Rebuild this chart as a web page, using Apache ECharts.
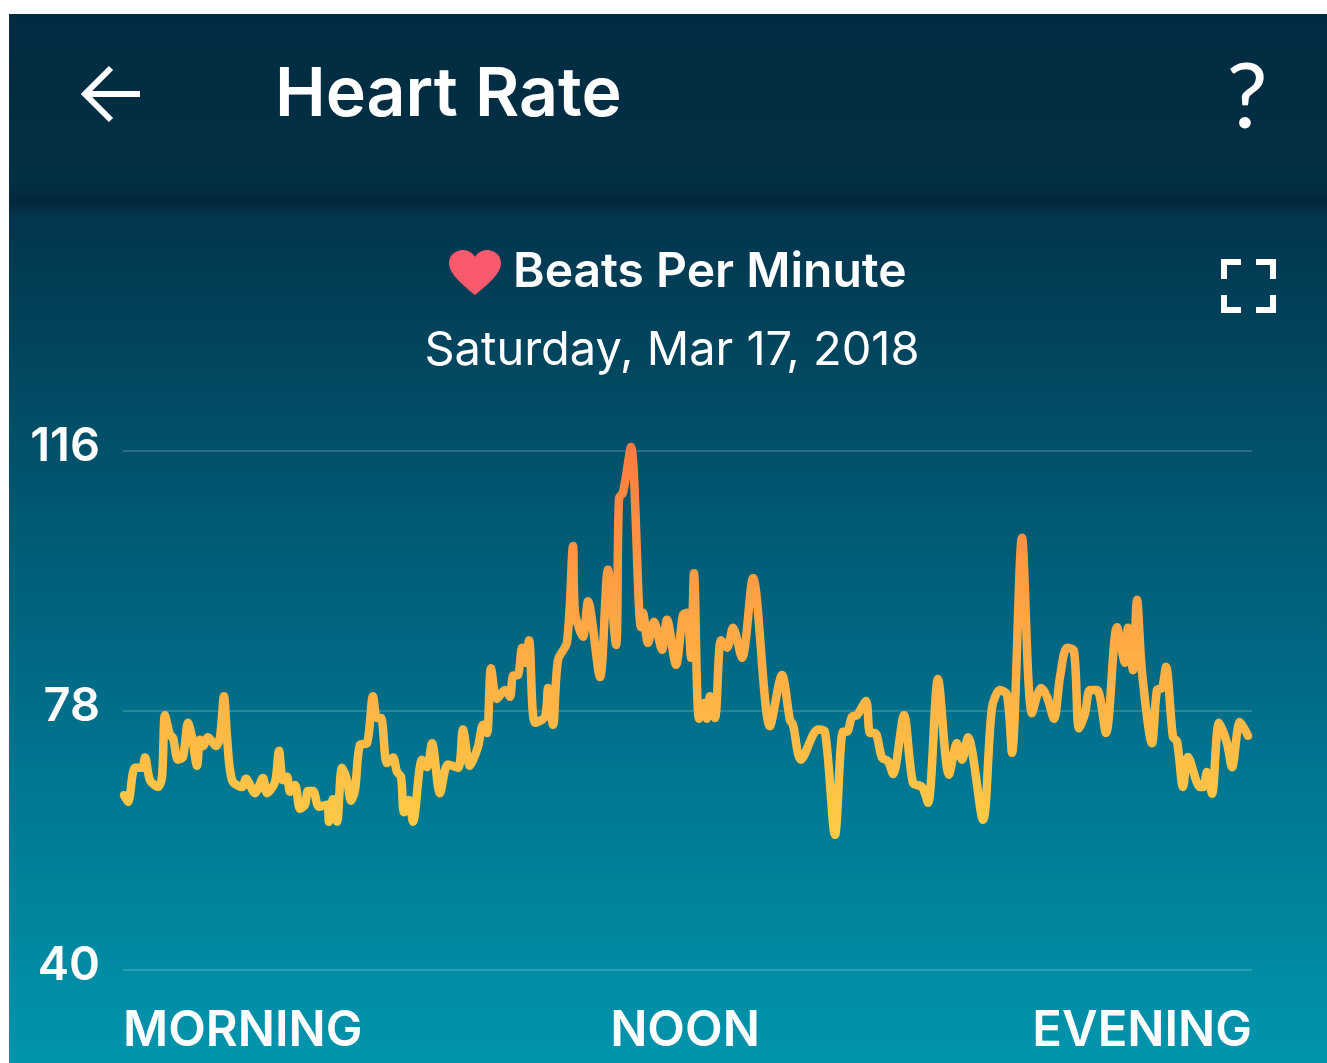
<!DOCTYPE html>
<html>
<head>
<meta charset="utf-8">
<title>Heart Rate</title>
<script src="https://cdn.jsdelivr.net/npm/echarts@6/dist/echarts.min.js"></script>
<style>
html,body{margin:0;padding:0;background:#fff;}
#main{width:1327px;height:1063px;}
</style>
</head>
<body>
<div id="main"></div>
<script>
// position along the day (0 = left edge of the plot, 1129 = right edge)
var samplePos = [1,5,12,19,22,27,35,39,42,47,50,55,60,65,69,74,77,80,85,93,97,101,104,109,119,123,132,140,144,152,156,160,164,167,172,177,182,185,190,196,204,206,210,214,219,224,228,232,237,244,250,254,258,264,270,274,278,281,286,290,299,304,309,317,325,335,340,347,355,360,364,368,374,382,387,390,395,399,402,406,412,422,425,430,435,444,450,452,460,465,477,485,493,496,500,508,518,520,525,531,539,544,553,560,564,568,571,576,581,584,587,592,598,604,610,619,630,647,659,667,670,678,695,702,712,720,724,729,734,743,747,752,759,765,770,781,790,799,805,815,826,834,839,845,860,869,877,884,889,899,909,918,924,931,937,944,951,956,962,967,974,983,994,1002,1005,1010,1014,1019,1029,1034,1039,1043,1050,1054,1060,1065,1077,1080,1084,1089,1096,1104,1109,1117,1125];

// beats per minute at each position
var bpm = [65.6,64.6,69.6,69.6,71.1,67.8,66.8,68.3,77.3,74.4,74.0,70.8,71.2,76.2,74.1,69.9,73.7,72.8,74.1,72.8,74.1,80.1,74.1,67.8,66.8,68.0,65.9,68.1,65.9,67.5,72.1,67.8,68.3,66.1,67.1,63.6,64.2,66.2,66.2,63.9,64.2,61.7,65.0,61.7,69.6,67.8,64.8,66.4,73.0,73.2,80.1,76.9,76.9,70.3,71.1,69.0,68.3,63.1,64.9,61.7,70.8,69.7,73.2,65.9,70.1,69.6,75.2,69.9,72.7,75.9,74.7,84.2,79.7,81.0,80.0,83.1,83.2,87.2,85.0,88.3,76.2,77.1,81.3,75.9,85.4,88.0,102.1,92.4,88.8,94.0,82.9,98.6,87.6,109.1,109.9,116.6,90.2,92.3,87.9,91.0,86.9,91.3,84.7,92.0,92.3,85.7,98.1,76.8,79.1,76.8,80.1,76.9,88.3,87.2,90.1,85.7,97.4,75.7,83.2,76.6,75.9,70.8,75.2,74.9,59.8,74.9,74.9,77.1,77.3,79.4,74.7,74.7,71.1,70.6,68.7,77.3,67.4,66.8,64.5,82.6,68.6,73.2,70.8,74.1,62.0,78.4,81.0,80.3,71.8,103.3,77.6,81.3,80.0,76.8,82.9,87.2,86.7,75.4,77.6,81.0,81.0,74.7,90.2,85.0,90.1,83.9,94.2,83.6,73.2,81.0,81.3,84.4,74.1,73.5,66.8,71.2,66.8,66.8,69.0,65.8,76.2,73.2,69.7,76.3,74.3];

var yTicks = [40,78,116];
var xTicks = [0,562,1129];
var xTickLabels = ['MORNING','NOON','EVENING'];

var lineData = samplePos.map(function(x,i){return [x,bpm[i]];});

var font = 'Inter, Lato, sans-serif';

// heart next to the subtitle
echarts.graphic.registerShape('heart', echarts.graphic.extendShape({
    buildPath:function(ctx){
        ctx.moveTo(475,295);
        ctx.bezierCurveTo(462,284,449,274,449,263);
        ctx.bezierCurveTo(449,255,456,250,463,250);
        ctx.bezierCurveTo(468,250,473,253,475,257);
        ctx.bezierCurveTo(477,253,482,250,487,250);
        ctx.bezierCurveTo(494,250,501,255,501,263);
        ctx.bezierCurveTo(501,274,488,284,475,295);
        ctx.closePath();
    }
}));

var myChart = echarts.init(document.getElementById('main'));

var option = {
    animation:false,
    backgroundColor:'#fff',
    graphic:[
        {type:'rect',z:-10,shape:{x:9,y:14,width:1318,height:1049},
         style:{fill:new echarts.graphic.LinearGradient(0,0,0,1,[
            {offset:0,color:'#032a3f'},
            {offset:0.17,color:'#03334c'},
            {offset:0.18,color:'#03334c'},
            {offset:0.4,color:'#014f68'},
            {offset:0.7,color:'#00738e'},
            {offset:1,color:'#0095ad'}
         ])}},
        // app bar
        {type:'rect',z:-9,shape:{x:9,y:14,width:1318,height:186},
         style:{fill:new echarts.graphic.LinearGradient(0,0,0,1,[
            {offset:0,color:'#012b42'},
            {offset:0.9,color:'#023044'},
            {offset:1,color:'#02293b'}
         ])}},
        {type:'rect',z:-9,shape:{x:9,y:200,width:1318,height:16},
         style:{fill:new echarts.graphic.LinearGradient(0,0,0,1,[
            {offset:0,color:'rgba(1,32,46,0.6)'},
            {offset:1,color:'rgba(1,32,46,0)'}
         ])}},
        {type:'polyline',shape:{points:[[84,94],[140,94]]},style:{stroke:'#fff',lineWidth:6,fill:null}},
        {type:'polyline',shape:{points:[[111,68],[85,94],[111,120]]},style:{stroke:'#fff',lineWidth:6,fill:null}},
        {type:'text',x:275,y:96,style:{text:'Heart Rate',fill:'#fff',font:'600 68px '+font,textVerticalAlign:'middle'}},
        {type:'text',x:1247,y:98,style:{text:'?',fill:'#fff',font:'400 92px Lato, sans-serif',textAlign:'center',textVerticalAlign:'middle'}},
        {type:'heart',shape:{},style:{fill:'#fb5a6c'}},
        {type:'text',x:513,y:273,style:{text:'Beats Per Minute',fill:'#fff',font:'600 48px '+font,textVerticalAlign:'middle'}},
        {type:'text',x:672,y:351,style:{text:'Saturday, Mar 17, 2018',fill:'#fff',font:'400 47px '+font,textAlign:'center',textVerticalAlign:'middle'}},
        // fullscreen corners
        {type:'polyline',shape:{points:[[1224,279],[1224,262],[1241,262]]},style:{stroke:'#fff',lineWidth:6,fill:null}},
        {type:'polyline',shape:{points:[[1256,262],[1273,262],[1273,279]]},style:{stroke:'#fff',lineWidth:6,fill:null}},
        {type:'polyline',shape:{points:[[1224,295],[1224,310],[1241,310]]},style:{stroke:'#fff',lineWidth:6,fill:null}},
        {type:'polyline',shape:{points:[[1256,310],[1273,310],[1273,295]]},style:{stroke:'#fff',lineWidth:6,fill:null}}
    ],
    grid:{left:123,top:451,width:1129,height:519,containLabel:false},
    xAxis:{
        type:'value',min:0,max:1129,
        axisLine:{show:false},axisTick:{show:false,customValues:xTicks},splitLine:{show:false},
        axisLabel:{
            customValues:xTicks,
            alignMinLabel:'left',alignMaxLabel:'right',
            color:'#fff',fontFamily:font,fontSize:49,fontWeight:600,margin:37,
            formatter:function(v){return xTickLabels[xTicks.indexOf(v)];}
        }
    },
    yAxis:{
        type:'value',min:40,max:116,
        axisLine:{show:false},
        axisTick:{show:false,customValues:yTicks},
        splitLine:{show:true,lineStyle:{color:'rgba(255,255,255,0.16)',width:2}},
        axisLabel:{
            customValues:yTicks,
            color:'#fff',fontFamily:font,fontSize:47,fontWeight:600,margin:23,
            verticalAlign:'bottom',lineHeight:8
        }
    },
    series:[{
        type:'line',
        data:lineData,
        smooth:0.3,
        showSymbol:false,
        clip:false,
        lineStyle:{
            width:8.5,cap:'round',join:'round',
            color:new echarts.graphic.LinearGradient(0,0,0,1,[
                {offset:0,color:'#ff7a3f'},
                {offset:0.45,color:'#ffa745'},
                {offset:1,color:'#ffcc45'}
            ])
        }
    }]
};
myChart.setOption(option);
</script>
</body>
</html>
